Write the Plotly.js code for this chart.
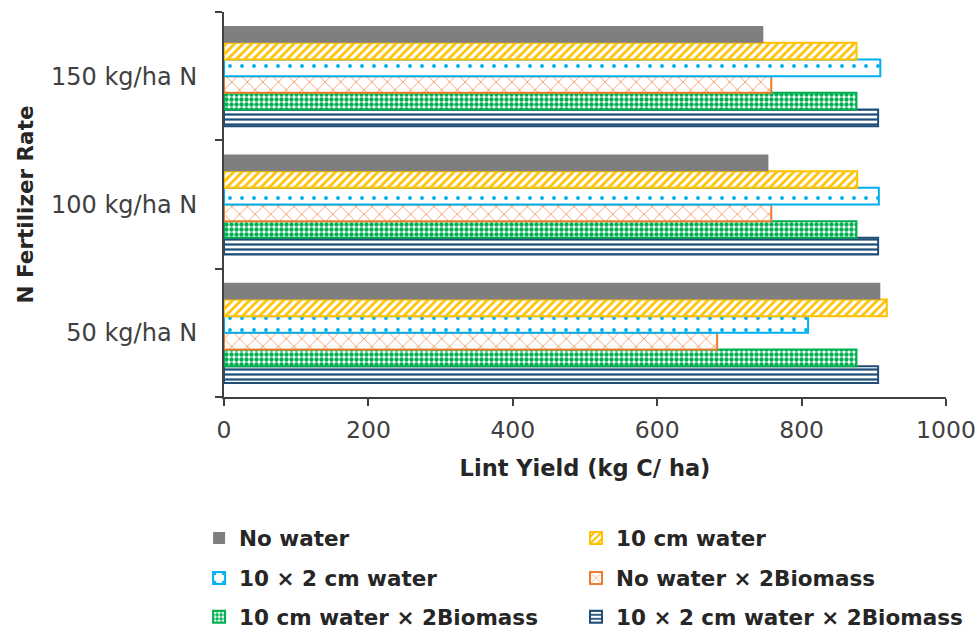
<!DOCTYPE html>
<html>
<head>
<meta charset="utf-8">
<script src="https://cdn.plot.ly/plotly-3.0.1.min.js"></script>
<style>
  html, body { margin: 0; padding: 0; background: #ffffff; }
  #chart { width: 976px; height: 632px; }
</style>
</head>
<body>
<div id="chart"></div>
<script>
// Nitrogen rates (bottom to top on the category axis)
const nRates = ['50 kg/ha N', '100 kg/ha N', '150 kg/ha N'];

// Lint yield (kg C/ ha) per irrigation / biomass treatment, ordered like nRates
const noWater          = [909, 754, 747];
const cm10Water        = [918, 877, 876];
const cm10x2Water      = [809, 907, 909];
const noWater2Bio      = [683, 758, 758];
const cm10Water2Bio    = [876, 876, 876];
const cm10x2Water2Bio  = [906, 906, 906];

const seriesNames = [
  'No water',
  '10 cm water',
  '10 × 2 cm water',
  'No water × 2Biomass',
  '10 cm water × 2Biomass',
  '10 × 2 cm water × 2Biomass'
];

const FONT = 'DejaVu Sans, Liberation Sans, sans-serif';
const TEXT_DARK = '#262626';
const AXIS_DARK = '#404040';

function barTrace(name, values, color, pattern, legendId) {
  return {
    type: 'bar',
    orientation: 'h',
    name: name,
    x: values,
    y: nRates,
    legend: legendId,
    hoverinfo: 'x+name',
    marker: {
      color: color,
      line: { color: color, width: pattern ? 2 : 0 },
      pattern: pattern || { shape: '' }
    }
  };
}

// Traces are added bottom-up so that "No water" sits at the top of each group.
// Each series gets its own legend box, laid out as a two-column key below the plot.
const traces = [
  barTrace(seriesNames[5], cm10x2Water2Bio, '#1F4E79',
    { shape: '-', fgcolor: '#1F4E79', bgcolor: '#ffffff', size: 5, solidity: 0.45, fillmode: 'replace' }, 'legend6'),
  barTrace(seriesNames[4], cm10Water2Bio, '#00B050',
    { shape: '.', fgcolor: '#00B050', bgcolor: '#ffffff', size: 5, solidity: 0.6, fillmode: 'replace' }, 'legend5'),
  barTrace(seriesNames[3], noWater2Bio, '#ED7D31',
    { shape: 'x', fgcolor: '#ED7D31', bgcolor: '#ffffff', size: 11, solidity: 0.12, fillmode: 'replace' }, 'legend4'),
  barTrace(seriesNames[2], cm10x2Water, '#00B0F0',
    { shape: '.', fgcolor: '#00B0F0', bgcolor: '#ffffff', size: 12, solidity: 0.08, fillmode: 'replace' }, 'legend3'),
  barTrace(seriesNames[1], cm10Water, '#FFC000',
    { shape: '/', fgcolor: '#FFC000', bgcolor: '#ffffff', size: 6, solidity: 0.45, fillmode: 'replace' }, 'legend2'),
  barTrace(seriesNames[0], noWater, '#7F7F7F', null, 'legend')
];

const legendCols = [-0.0345, 0.4875];
const legendRows = [-0.366, -0.470, -0.571];

function legendBox(col, row) {
  return {
    orientation: 'h',
    x: legendCols[col],
    xanchor: 'left',
    y: legendRows[row],
    yanchor: 'middle',
    bgcolor: 'rgba(0,0,0,0)',
    font: { family: FONT, size: 21.5, color: TEXT_DARK, weight: 'bold' }
  };
}

const layout = {
  width: 976,
  height: 632,
  margin: { l: 224, r: 30, t: 12, b: 235, autoexpand: false },
  paper_bgcolor: '#ffffff',
  plot_bgcolor: '#ffffff',
  barmode: 'group',
  bargap: 0.22,
  bargroupgap: 0,
  font: { family: FONT, color: AXIS_DARK },
  xaxis: {
    range: [0, 1000],
    dtick: 200,
    tick0: 0,
    showgrid: false,
    zeroline: false,
    showline: true,
    linecolor: AXIS_DARK,
    linewidth: 2,
    ticks: 'outside',
    ticklen: 7,
    tickwidth: 2,
    tickcolor: AXIS_DARK,
    ticklabelstandoff: 4,
    tickfont: { family: FONT, size: 23.5, color: AXIS_DARK },
    title: {
      text: 'Lint Yield (kg C/ ha)',
      standoff: 17,
      font: { family: FONT, size: 22.5, color: TEXT_DARK, weight: 'bold' }
    }
  },
  yaxis: {
    type: 'category',
    categoryorder: 'array',
    categoryarray: nRates,
    range: [-0.5, 2.5],
    showgrid: false,
    zeroline: false,
    showline: true,
    linecolor: AXIS_DARK,
    linewidth: 2,
    ticks: 'outside',
    tickson: 'boundaries',
    ticklen: 7,
    tickwidth: 2,
    tickcolor: AXIS_DARK,
    ticklabelstandoff: 20,
    tickfont: { family: FONT, size: 24, color: AXIS_DARK },
    title: {
      text: 'N Fertilizer Rate',
      standoff: 12,
      font: { family: FONT, size: 21.5, color: TEXT_DARK, weight: 'bold' }
    }
  },
  legend:  legendBox(0, 0),
  legend2: legendBox(1, 0),
  legend3: legendBox(0, 1),
  legend4: legendBox(1, 1),
  legend5: legendBox(0, 2),
  legend6: legendBox(1, 2),
  showlegend: true
};

Plotly.newPlot('chart', traces, layout, { displayModeBar: false, responsive: false });
</script>
</body>
</html>
